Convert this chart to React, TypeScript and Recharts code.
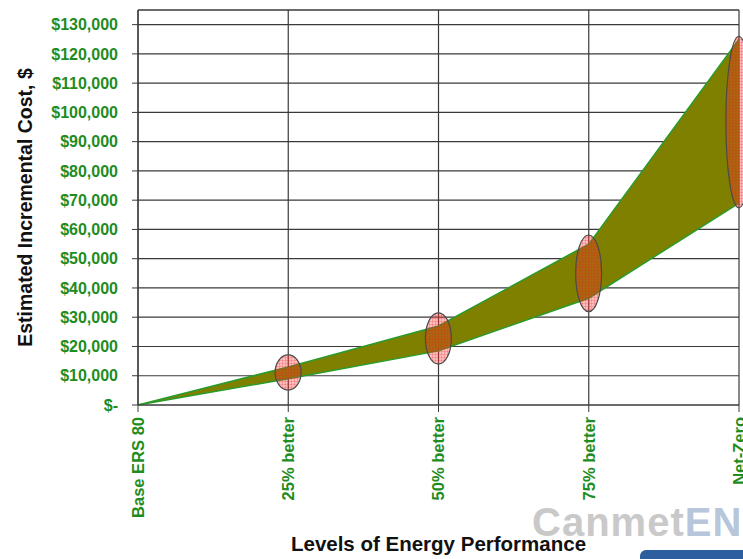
import React from 'react';
import {
  ComposedChart,
  Area,
  Bar,
  XAxis,
  YAxis,
  CartesianGrid,
  ReferenceLine,
} from 'recharts';

const categories = ['Base ERS 80', '25% better', '50% better', '75% better', 'Net-Zero'];
const costLow = [0, 9000, 18500, 36500, 69000];
const costHigh = [0, 13000, 27000, 55000, 125000];
const spreadLow = [null, 5100, 14000, 31900, 67400];
const spreadHigh = [null, 17100, 31500, 58100, 126000];
const yTicks = [0, 10000, 20000, 30000, 40000, 50000, 60000, 70000, 80000, 90000, 100000, 110000, 120000, 130000];
const yMax = 135000;

const data = categories.map((name, i) => ({
  idx: i,
  name,
  band: [costLow[i], costHigh[i]],
  spread: spreadLow[i] == null ? null : [spreadLow[i], spreadHigh[i]],
}));

const GREEN = '#1e8c1e';
const GRID = '#3a3a3a';
const FONT = '"Liberation Sans", Arial, sans-serif';

const fmtMoney = (v: number) => (v === 0 ? '$-' : '$' + v.toLocaleString('en-US'));

const XTick = (props: any) => {
  const { x, y, payload } = props;
  return (
    <text
      x={x}
      y={y}
      dy="0.36em"
      transform={`rotate(-90, ${x}, ${y})`}
      textAnchor="end"
      fill={GREEN}
      fontSize={16.5}
      fontWeight="bold"
      fontFamily={FONT}
    >
      {categories[payload.value]}
    </text>
  );
};

const Oval = (props: any) => {
  const { x, y, width, height, index } = props;
  if (height == null || isNaN(height) || height <= 0) return null;
  const cx = x + width / 2;
  const cy = y + height / 2;
  const pid = `hatch-${index}`;
  return (
    <g>
      <defs>
        <pattern id={pid} width="3" height="3" patternUnits="userSpaceOnUse">
          <rect width="3" height="3" fill="#ff3030" fillOpacity={0.32} />
          <path d="M0 0.5 H3 M0.5 0 V3" stroke="#e02020" strokeOpacity={0.35} strokeWidth={0.6} />
        </pattern>
      </defs>
      <ellipse cx={cx} cy={cy} rx={13} ry={height / 2} fill={`url(#${pid})`} stroke="#4a4a4a" strokeWidth={1.2} />
    </g>
  );
};

export default function App() {
  return (
    <div style={{ position: 'absolute', left: 0, top: 0, width: 743, height: 559, overflow: 'hidden', background: '#fff' }}>
      <div
        style={{
          position: 'absolute',
          left: 532,
          top: 502,
          fontFamily: FONT,
          fontWeight: 'bold',
          fontSize: 40,
          lineHeight: '40px',
          whiteSpace: 'nowrap',
          letterSpacing: 1,
        }}
      >
        <span style={{ color: '#c9c9c9' }}>Canmet</span>
        <span style={{ color: '#b7c6da' }}>ENERGY</span>
      </div>
      <div
        style={{
          position: 'absolute',
          left: 640,
          top: 550,
          width: 110,
          height: 12,
          background: '#2d5f9e',
          borderTopLeftRadius: 6,
        }}
      />
      <div style={{ position: 'absolute', left: 0, top: 0 }}>
        <ComposedChart width={743} height={559} data={data} margin={{ top: 10, right: 4, bottom: 0, left: 0 }}>
          <CartesianGrid stroke={GRID} strokeWidth={1.2} />
          <XAxis
            dataKey="idx"
            type="number"
            domain={[0, 4]}
            ticks={[0, 1, 2, 3, 4]}
            interval={0}
            height={154}
            tick={<XTick />}
            tickSize={7}
            tickMargin={5}
            tickLine={{ stroke: GRID }}
            axisLine={{ stroke: GRID, strokeWidth: 1.2 }}
            label={{
              value: 'Levels of Energy Performance',
              content: (p: any) => {
                const vb = p.viewBox;
                return (
                  <text
                    x={vb.x + vb.width / 2}
                    y={551}
                    textAnchor="middle"
                    fill="#111"
                    fontSize={20.5}
                    fontWeight="bold"
                    fontFamily={FONT}
                  >
                    Levels of Energy Performance
                  </text>
                );
              },
            }}
          />
          <YAxis
            type="number"
            domain={[0, yMax]}
            ticks={yTicks}
            interval={0}
            width={138}
            tickFormatter={fmtMoney}
            tickSize={6}
            tickMargin={14}
            tick={{ fill: GREEN, fontSize: 16, fontWeight: 'bold', fontFamily: FONT }}
            tickLine={{ stroke: GRID }}
            axisLine={{ stroke: GRID, strokeWidth: 1.2 }}
            label={{
              value: 'Estimated Incremental Cost, $',
              content: (p: any) => {
                const vb = p.viewBox;
                const cx = 25;
                const cy = vb.y + vb.height / 2;
                return (
                  <text
                    x={cx}
                    y={cy}
                    transform={`rotate(-90, ${cx}, ${cy})`}
                    textAnchor="middle"
                    dy="0.36em"
                    fill="#111"
                    fontSize={19.5}
                    fontWeight="bold"
                    fontFamily={FONT}
                  >
                    Estimated Incremental Cost, $
                  </text>
                );
              },
            }}
          />
          <ReferenceLine y={yMax} stroke={GRID} strokeWidth={1.2} />
          <Area
            dataKey="band"
            type="linear"
            fill="#808000"
            fillOpacity={1}
            stroke="#2a9a2a"
            strokeWidth={1.5}
            isAnimationActive={false}
          />
          <Bar dataKey="spread" barSize={26} shape={<Oval />} isAnimationActive={false} />
        </ComposedChart>
      </div>
    </div>
  );
}
